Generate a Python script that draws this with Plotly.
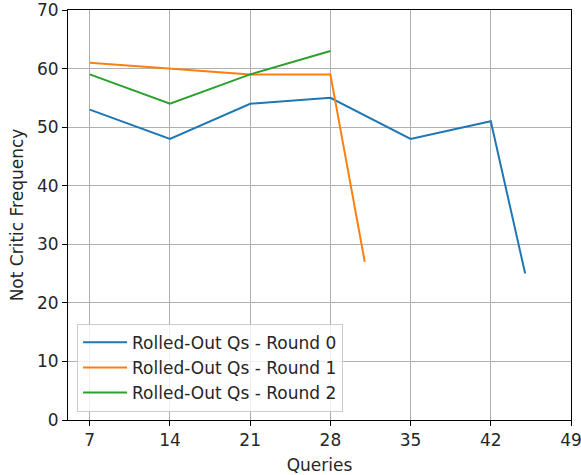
import plotly.graph_objects as go

x_r0 = [7, 14, 21, 28, 35, 42, 45]
y_r0 = [53, 48, 54, 55, 48, 51, 25]
x_r1 = [7, 14, 21, 28, 31]
y_r1 = [61, 60, 59, 59, 27]
x_r2 = [7, 14, 21, 28]
y_r2 = [59, 54, 59, 63]
names = ["Rolled-Out Qs - Round 0", "Rolled-Out Qs - Round 1", "Rolled-Out Qs - Round 2"]
colors = ["#1f77b4", "#ff7f0e", "#2ca02c"]
x_ticks = [7, 14, 21, 28, 35, 42, 49]
y_ticks = [0, 10, 20, 30, 40, 50, 60, 70]

FS = 17
fig = go.Figure()
for xs, ys, n, c in zip([x_r0, x_r1, x_r2], [y_r0, y_r1, y_r2], names, colors):
    fig.add_trace(go.Scatter(x=xs, y=ys, mode="lines", name=n,
                             line=dict(color=c, width=2)))

axis_common = dict(showline=True, linecolor="black", linewidth=1.1, mirror=True,
                   ticks="outside", ticklen=5, tickwidth=1.1, tickcolor="black",
                   showgrid=True, gridcolor="#b0b0b0", gridwidth=1.1, zeroline=False,
                   automargin=False, ticklabeloverflow="allow",
                   tickfont=dict(family="DejaVu Sans", size=FS, color="#262626"))

fig.update_layout(
    width=581, height=475,
    margin=dict(l=68, r=10, t=10, b=55),
    plot_bgcolor="white", paper_bgcolor="white",
    font=dict(family="DejaVu Sans", size=FS, color="#262626"),
    xaxis=dict(range=[5.1, 49], tickvals=x_ticks,
               title=dict(text="Queries", standoff=10,
                          font=dict(family="DejaVu Sans", size=FS, color="#262626")),
               **axis_common),
    yaxis=dict(range=[0, 70], tickvals=y_ticks,
               title=dict(text="Not Critic Frequency", standoff=8,
                          font=dict(family="DejaVu Sans", size=FS, color="#262626")),
               **axis_common),
    legend=dict(x=0.018, y=0.02, xanchor="left", yanchor="bottom",
                bgcolor="rgba(255,255,255,0.8)", bordercolor="#cccccc", borderwidth=1,
                font=dict(family="DejaVu Sans", size=FS, color="#262626"),
                itemwidth=44, tracegroupgap=0),
    showlegend=True,
)

fig.write_html("out.html",
               config={"displayModeBar": False},
               post_script="document.body.style.margin='0';document.body.style.overflow='hidden';")
